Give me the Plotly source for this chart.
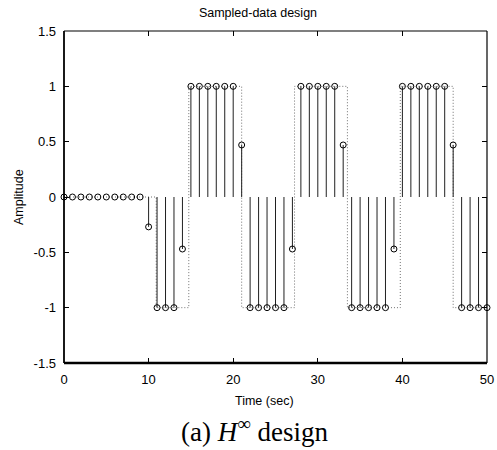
import plotly.graph_objects as go

# ---- data ----
sample_times = list(range(0, 51))
sample_values = ([0.0] * 10 + [-0.27] + [-1.0] * 3 + [-0.47] + [1.0] * 6 + [0.47] +
                 [-1.0] * 5 + [-0.47] + [1.0] * 5 + [0.47] + [-1.0] * 5 + [-0.47] +
                 [1.0] * 6 + [0.47] + [-1.0] * 4)
ref_switch_times = [0.0, 10.9, 14.75, 21.0, 27.25, 33.5, 39.75, 46.0, 50.0]
ref_levels = [0.0, -1.0, 1.0, -1.0, 1.0, -1.0, 1.0, -1.0]
x_ticks = [0, 10, 20, 30, 40, 50]
y_ticks = [-1.5, -1, -0.5, 0, 0.5, 1, 1.5]
y_tick_text = ["-1.5", "-1", "-0.5", "0", "0.5", "1", "1.5"]

# ---- layout geometry (pixels) ----
W, H = 497, 450
L, R, T, B = 64, 10, 31, 87
PW, PH = W - L - R, H - T - B

def px(xp):
    return (xp - L) / PW

def py(yp):
    return (H - B - yp) / PH

# reference (dotted) square wave
rx, ry = [], []
for i, lev in enumerate(ref_levels):
    rx += [ref_switch_times[i], ref_switch_times[i + 1]]
    ry += [lev, lev]

# stems
sx, sy = [], []
for t, v in zip(sample_times, sample_values):
    if v != 0:
        sx += [t, t, None]
        sy += [0, v, None]

font = "Liberation Sans, Arial, Helvetica, sans-serif"

fig = go.Figure()
fig.add_trace(go.Scatter(x=rx, y=ry, mode="lines",
                         line=dict(color="#707070", width=1, dash="1px,2px"),
                         hoverinfo="skip", showlegend=False))
fig.add_trace(go.Scatter(x=sx, y=sy, mode="lines",
                         line=dict(color="#202020", width=1),
                         hoverinfo="skip", showlegend=False))
fig.add_trace(go.Scatter(x=sample_times, y=sample_values, mode="markers",
                         marker=dict(symbol="circle-open", size=6, color="black",
                                     line=dict(width=1, color="black")),
                         cliponaxis=False, showlegend=False))

axis_common = dict(showgrid=False, zeroline=False, showline=False,
                   ticks="inside", ticklen=5, tickwidth=1, tickcolor="black",
                   mirror="ticks", automargin=False,
                   tickfont=dict(family=font, size=13, color="black"))

fig.update_layout(
    width=W, height=H,
    margin=dict(l=L, r=R, t=T, b=B, pad=0, autoexpand=False),
    paper_bgcolor="white", plot_bgcolor="white",
    xaxis=dict(range=[0, 50], tickvals=x_ticks, ticklabelstandoff=7, **axis_common),
    yaxis=dict(range=[-1.5, 1.5], tickvals=y_ticks, ticktext=y_tick_text,
               ticklabelstandoff=7, **axis_common),
    title=dict(text="Sampled-data design", x=px(258), xref="paper", xanchor="center",
               y=1 - 13 / H, yref="container", yanchor="middle",
               font=dict(family=font, size=12.5, color="black")),
    shapes=[
        dict(type="line", xref="paper", yref="paper", x0=0, x1=1, y0=1, y1=1,
             line=dict(color="black", width=1.2)),
        dict(type="line", xref="paper", yref="paper", x0=1, x1=1, y0=0, y1=1,
             line=dict(color="black", width=1.2)),
        dict(type="line", xref="paper", yref="paper", x0=0, x1=0, y0=0, y1=1,
             line=dict(color="black", width=1.8)),
        dict(type="line", xref="paper", yref="paper", x0=0, x1=1, y0=0, y1=0,
             line=dict(color="black", width=2.5)),
    ],
    annotations=[
        dict(text="Time (sec)", xref="paper", yref="paper", x=px(264), y=py(401),
             xanchor="center", yanchor="middle", showarrow=False,
             font=dict(family=font, size=12.5, color="black")),
        dict(text="Amplitude", xref="paper", yref="paper", x=px(19), y=py(197),
             xanchor="center", yanchor="middle", showarrow=False, textangle=-90,
             font=dict(family=font, size=12.5, color="black")),
        dict(text="(a) <i>H</i><sup>∞</sup> design", xref="paper", yref="paper",
             x=px(254), y=py(430), xanchor="center", yanchor="middle", showarrow=False,
             font=dict(family="Liberation Serif, Times New Roman, serif", size=27,
                       color="black")),
    ],
)

fig.write_html("out.html")
